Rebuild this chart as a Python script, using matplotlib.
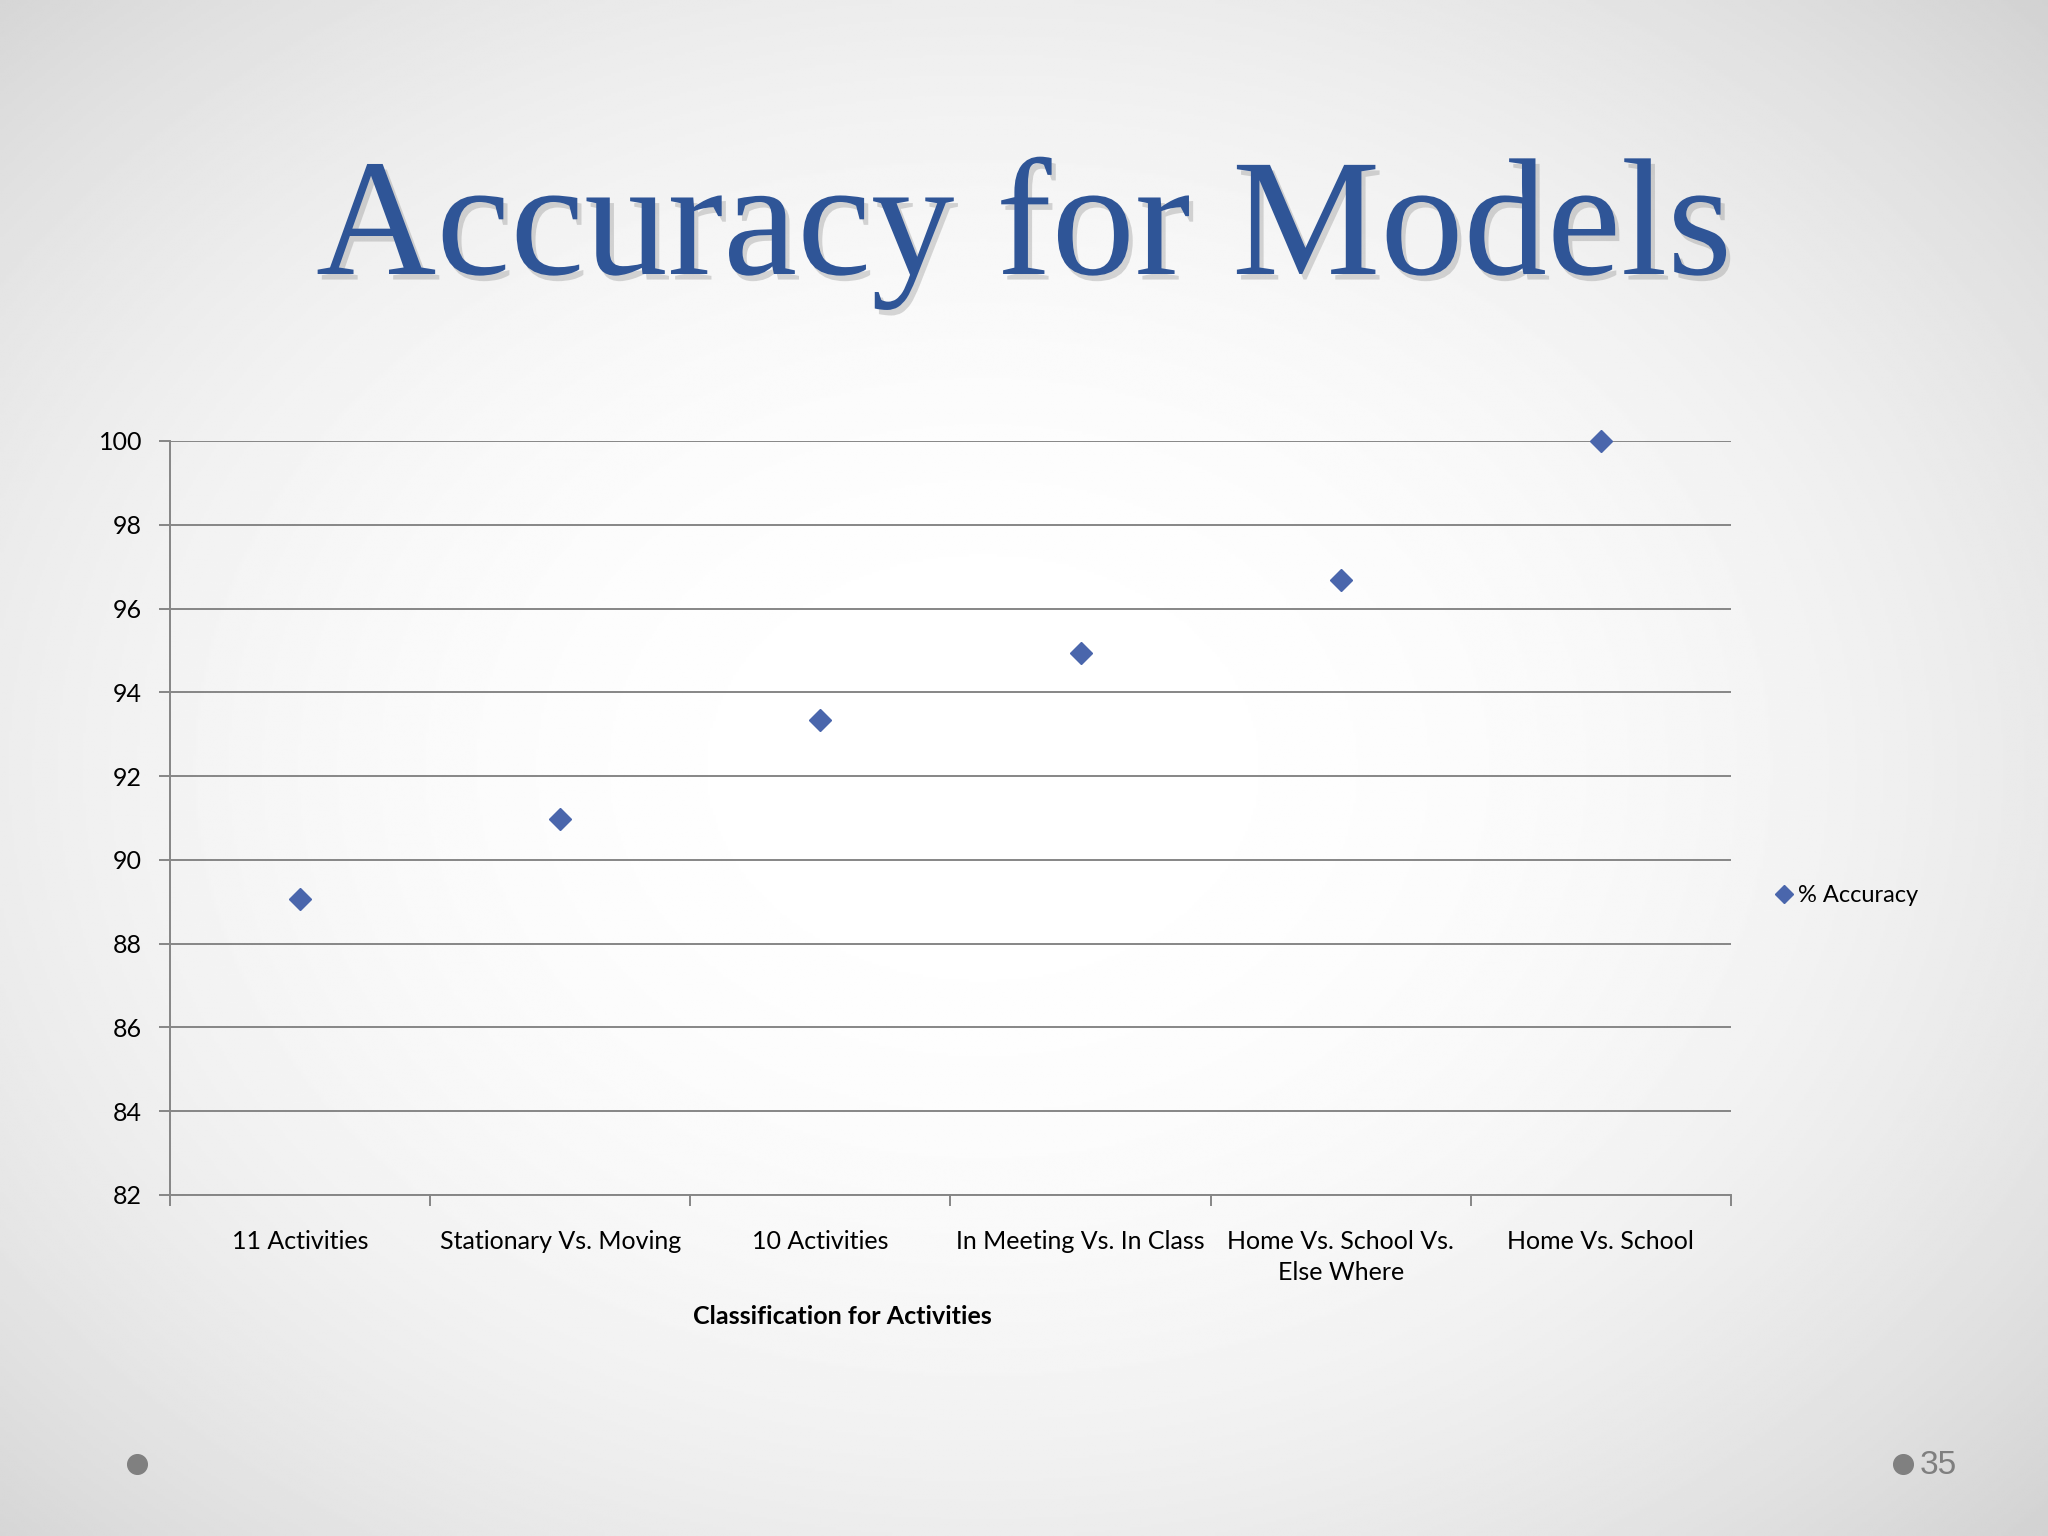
import matplotlib
matplotlib.use('Agg')
import numpy as np
import matplotlib.pyplot as plt
import matplotlib.patheffects as pe

# chart data
categories = ['11 Activities', 'Stationary Vs. Moving', '10 Activities',
              'In Meeting Vs. In Class', 'Home Vs. School Vs.\nElse Where',
              'Home Vs. School']
accuracy = [89.07, 90.98, 93.33, 94.95, 96.68, 100.0]
y_ticks = list(range(82, 101, 2))

grid_col = '#868686'
mark_col = '#4A66AC'
txt_font = 'Lato'

fig = plt.figure(figsize=(20.48, 15.36), dpi=100)

# slide background: soft vignette
bg = fig.add_axes([0, 0, 1, 1], zorder=-10)
yy, xx = np.mgrid[0:1:600j, 0:1:800j]
r = np.sqrt(((xx - 0.48) / 0.7) ** 2 + ((yy - 0.5) / 0.72) ** 2)
shade = 1 - 0.17 * np.clip(r, 0, 1.3) ** 2.3
bg.imshow(shade, cmap='gray', vmin=0, vmax=1, extent=[0, 1, 0, 1], aspect='auto',
          interpolation='bilinear')
bg.set_xlim(0, 1)
bg.set_ylim(0, 1)
bg.axis('off')

# footer dots + slide number
bg.scatter([137 / 2048, 1903 / 2048], [1 - 1464 / 1536, 1 - 1464 / 1536],
           s=200, color='#808080', zorder=2)
bg.text(1920 / 2048, 1 - 1466 / 1536, '35', fontsize=24, color='#7F7F7F',
        family='Liberation Sans', va='center', ha='left')

# title
fig.text(0.5, 1 - 233 / 1536, 'Accuracy for Models', ha='center', va='center',
         fontsize=120, color='#2F5597', family='Liberation Serif',
         path_effects=[pe.SimplePatchShadow(offset=(3, -4), shadow_rgbFace='#666666', alpha=0.25),
                       pe.Normal()])

ax = fig.add_axes([170 / 2048, 1 - 1195 / 1536, (1731 - 170) / 2048, (1195 - 441) / 1536])
ax.patch.set_alpha(0)
x = np.arange(len(categories))
ax.plot(x, accuracy, linestyle='none', marker='D', ms=11, color=mark_col,
        label='% Accuracy', zorder=3, clip_on=False)

ax.set_xlim(-0.5, len(categories) - 0.5)
ax.set_ylim(82, 100)
ax.set_yticks(y_ticks)
ax.yaxis.grid(True, color=grid_col, lw=1.4)
ax.set_axisbelow(True)

ax.set_xticks(x)
ax.set_xticklabels(categories, fontsize=18, family=txt_font, linespacing=1.45)
ax.set_xticks(np.arange(-0.5, len(categories)), minor=True)
ax.tick_params(axis='x', which='major', length=0, pad=25)
ax.tick_params(axis='x', which='minor', length=8, width=1.4, color=grid_col)
ax.tick_params(axis='y', length=8, width=1.4, color=grid_col, pad=12, labelsize=18)
for lab in ax.get_yticklabels():
    lab.set_family(txt_font)

for s in ['top', 'right']:
    ax.spines[s].set_visible(False)
for s in ['left', 'bottom']:
    ax.spines[s].set_color(grid_col)
    ax.spines[s].set_linewidth(1.4)

ax.set_xlabel('Classification for Activities', fontsize=18, family=txt_font,
              fontweight='bold')
ax.xaxis.set_label_coords(0.431, -0.146)

fig.legend(loc='center left', bbox_to_anchor=(1756 / 2048, 1 - 896 / 1536),
           frameon=False, handlelength=0.6, handletextpad=0.3, markerscale=0.8,
           prop={'family': txt_font, 'size': 17})

fig.savefig('out.png', dpi=100)
